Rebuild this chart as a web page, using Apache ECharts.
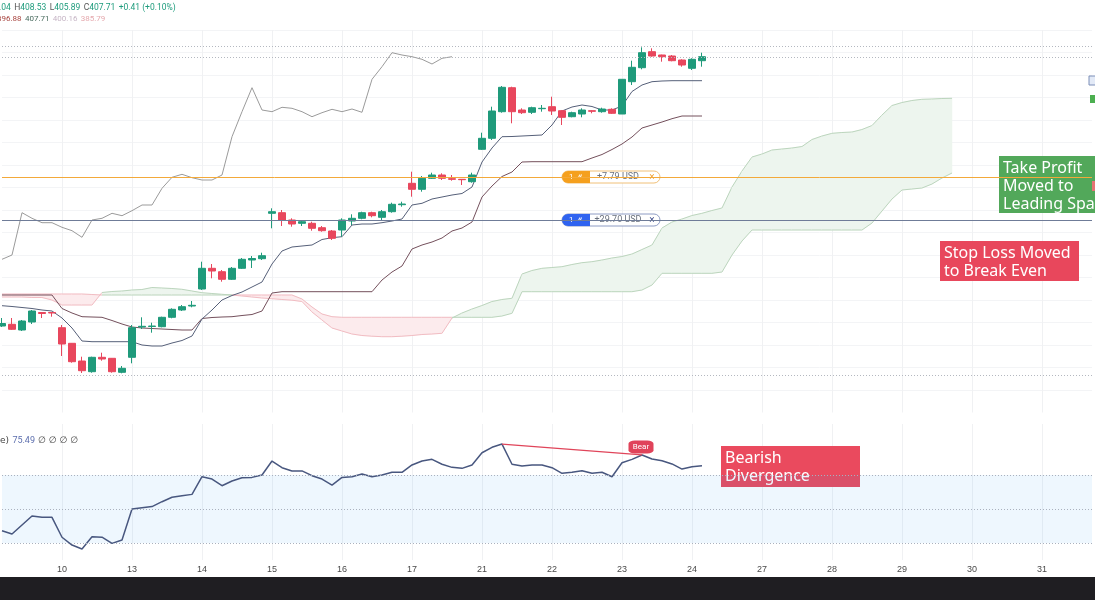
<!DOCTYPE html>
<html>
<head>
<meta charset="utf-8">
<script src="https://cdn.jsdelivr.net/npm/echarts@6/dist/echarts.min.js"></script>
<style>
  html, body { margin: 0; padding: 0; background: #fff; }
  #chart { width: 1095px; height: 600px; }
</style>
</head>
<body>
<div id="chart"></div>
<script>
// time slots: one per hourly candle, day labels on the first candle of each day
const slotCount = 110;
const dayTickIndex = [6, 13, 20, 27, 34, 41, 48, 55, 62, 69, 76, 83, 90, 97, 104];
const dayTickLabel = ['10', '13', '14', '15', '16', '17', '21', '22', '23', '24', '27', '28', '29', '30', '31'];

// candles (index 0..70)
const opens = [
  354.8, 355.14, 354.0, 355.6, 357.5, 357.5, 354.46, 351.34, 347.8, 345.66,
  348.54, 348.34, 345.54, 348.54, 354.6, 354.7, 354.66, 356.54, 358.0, 358.8,
  362.2, 366.34, 365.66, 364.14, 366.34, 368.0, 368.26, 377.34, 377.46, 376.0,
  375.34, 375.34, 374.46, 373.8, 374.0, 375.8, 376.34, 377.46, 376.54, 377.66,
  379.06, 383.34, 382.14, 384.34, 385.0, 384.26, 384.14, 383.66, 390.14, 392.34,
  397.66, 402.46, 398.0, 397.54, 398.26, 398.66, 397.86, 396.66, 397.2, 397.86,
  397.66, 398.14, 397.2, 403.66, 406.46, 409.66, 409.0, 408.8, 408.0, 406.34,
  407.86
];
const closes = [
  355.3, 354.14, 355.8, 357.8, 357.3, 357.4, 351.2, 347.66, 345.86, 348.54,
  348.2, 345.66, 346.34, 354.46, 354.74, 354.8, 356.54, 358.14, 358.66, 358.94,
  366.34, 365.8, 364.14, 366.34, 368.14, 368.3, 368.86, 377.66, 376.0, 375.2,
  375.66, 374.34, 373.86, 372.34, 376.0, 376.34, 377.46, 376.86, 377.66, 379.14,
  379.2, 382.14, 384.34, 385.0, 384.34, 384.14, 384.06, 385.0, 392.34, 397.8,
  402.54, 397.66, 397.46, 398.46, 398.34, 397.8, 396.54, 397.46, 398.0, 397.74,
  398.2, 397.34, 404.14, 406.54, 409.46, 408.8, 408.66, 407.86, 407.0, 408.14,
  408.66
];
const lows = [
  354.6, 354.0, 353.8, 355.2, 356.4, 356.66, 348.8, 347.46, 345.4, 345.46,
  347.86, 345.46, 345.34, 347.34, 354.2, 353.46, 354.54, 356.34, 357.8, 358.54,
  362.0, 364.34, 363.66, 364.0, 366.2, 366.4, 368.0, 374.34, 374.8, 374.66,
  374.8, 373.86, 373.66, 372.0, 372.66, 375.0, 376.14, 376.54, 376.0, 377.46,
  378.66, 380.66, 381.66, 384.2, 384.0, 383.86, 383.0, 383.46, 390.0, 392.0,
  397.46, 395.34, 397.2, 397.2, 397.66, 397.0, 395.0, 396.54, 396.54, 397.34,
  397.46, 397.2, 397.2, 403.0, 406.14, 408.66, 407.66, 407.74, 406.66, 406.0,
  406.66
];
const highs = [
  356.4, 356.4, 356.0, 358.0, 357.6, 357.6, 355.0, 351.4, 348.66, 348.66,
  349.46, 348.4, 346.8, 355.0, 356.54, 355.46, 356.66, 358.34, 359.0, 359.8,
  367.66, 367.2, 366.0, 366.6, 368.4, 368.8, 369.46, 378.34, 378.0, 376.34,
  375.8, 375.66, 374.8, 374.0, 376.34, 377.14, 377.66, 377.66, 378.0, 379.46,
  379.66, 385.66, 384.8, 385.46, 385.34, 385.0, 384.2, 385.46, 393.46, 398.66,
  402.8, 402.66, 398.34, 398.66, 399.0, 400.66, 398.0, 397.66, 398.34, 397.94,
  398.46, 398.34, 404.14, 407.86, 410.54, 410.34, 409.06, 409.0, 408.14, 408.34,
  409.46
];

// ichimoku lines
const conversionLine = [
  358.86, 358.7, 358.5, 358.3, 358.0, 357.8, 356.4, 354.4, 351.8, 351.66,
  351.66, 351.66, 351.66, 351.66, 351.0, 350.8, 350.8, 351.4, 351.9, 352.8,
  356.2, 358.0, 360.0, 360.9, 361.6, 362.6, 363.6, 367.2, 369.8, 370.6,
  370.8, 371.0, 372.1, 372.46, 372.66, 375.0, 375.2, 375.2, 375.46, 375.8,
  376.2, 379.0, 379.34, 380.2, 380.6, 381.0, 381.3, 382.6, 387.6, 390.4,
  392.66, 392.7, 392.8, 392.9, 393.0, 395.0, 397.8, 398.6, 399.0, 398.7,
  398.0, 398.0, 398.8, 401.7, 403.0, 403.66, 403.8, 403.86, 403.86, 403.86,
  403.86
];
const baseLine = [
  361.0, 361.0, 361.0, 361.0, 361.0, 361.0, 358.3, 357.4, 356.66, 356.6,
  356.54, 355.9, 355.2, 354.6, 354.4, 354.3, 354.2, 354.1, 354.0, 354.0,
  356.3, 356.5, 356.6, 356.66, 356.9, 357.1, 357.8, 361.4, 361.66, 361.66,
  361.66, 361.66, 361.66, 361.66, 361.66, 361.66, 361.66, 361.66, 364.0, 365.6,
  366.8, 370.2, 371.0, 371.6, 372.4, 373.8, 374.4, 375.6, 380.6, 382.8,
  384.7, 385.6, 387.6, 387.66, 387.66, 387.66, 387.66, 387.66, 387.66, 388.4,
  389.1, 390.1, 391.2, 392.6, 394.4, 395.0, 395.6, 396.26, 396.8, 396.8,
  396.8
];
const laggingSpan = [
  368.14, 369.0, 377.46, 376.34, 375.46, 375.46, 374.54, 373.86, 372.54, 376.0,
  376.34, 377.34, 376.86, 377.86, 379.0, 379.0, 382.34, 384.54, 385.14, 384.46,
  384.0, 384.0, 385.0, 392.66, 397.66, 402.46, 398.0, 397.66, 398.54, 398.34,
  397.66, 396.66, 397.46, 398.14, 397.66, 398.2, 397.54, 404.14, 406.66, 409.46,
  409.0, 408.66, 408.14, 407.2, 408.34, 408.66
];
const leadingSpanA = [
  360.6, 360.6, 360.6, 360.5, 360.5, 360.0, 359.0, 359.0, 359.0, 359.0,
  361.5, 361.7, 361.8, 362.0, 362.1, 362.5, 362.4, 362.3, 362.14, 361.8,
  361.46, 361.3, 361.14, 361.0, 360.8, 360.6, 360.4, 360.26, 360.1, 359.96,
  359.7, 357.6, 356.0, 354.4, 353.8, 353.2, 352.9, 352.76, 352.66, 352.66,
  352.76, 352.9, 353.1, 353.2, 353.34, 356.4, 357.4, 358.2, 358.9, 359.7,
  360.1, 360.34, 365.2, 365.9, 366.34, 366.5, 366.66, 367.1, 367.46, 367.66,
  368.0, 368.4, 368.7, 369.2, 370.1, 371.0, 374.4, 375.6, 376.2, 376.9,
  377.34, 377.9, 378.4, 382.6, 385.8, 388.6, 389.2, 390.0, 390.2, 390.4,
  390.7, 392.1, 392.8, 393.34, 393.5, 393.6, 394.1, 394.9, 397.0, 398.9,
  399.5, 399.9, 400.14, 400.2, 400.3, 400.34
];
const leadingSpanB = [
  361.2, 361.2, 361.2, 361.2, 361.2, 361.2, 361.2, 361.2, 361.2, 361.1,
  361.0, 361.0, 361.0, 361.0, 361.0, 361.0, 361.0, 361.0, 361.0, 361.0,
  361.0, 361.0, 361.0, 361.0, 361.0, 361.0, 361.0, 361.0, 361.0, 361.0,
  360.2, 358.6, 357.2, 356.66, 356.54, 356.54, 356.54, 356.54, 356.54, 356.54,
  356.54, 356.54, 356.54, 356.54, 356.54, 356.54, 356.54, 356.54, 356.54, 356.54,
  356.8, 357.34, 361.66, 361.66, 361.66, 361.66, 361.66, 361.66, 361.66, 361.66,
  361.66, 361.66, 361.66, 361.66, 362.0, 363.0, 365.34, 365.34, 365.34, 365.34,
  365.34, 365.34, 365.6, 369.0, 371.8, 374.0, 374.0, 374.0, 374.0, 374.0,
  374.0, 374.0, 374.0, 374.0, 374.0, 374.0, 374.0, 375.4, 377.8, 380.2,
  382.0, 382.2, 382.4, 383.2, 384.4, 385.4
];

// horizontal levels on the price pane
const takeProfitLevel = 384.5;
const stopLevel = 376.0;
const dottedLevels = [410.7, 408.6, 345.0];

// RSI
const rsi = [
  37.2, 35.3, 40.6, 45.9, 45.1, 45.1, 33.4, 28.8, 26.5, 33.7,
  33.4, 29.8, 31.8, 50.0, 50.8, 51.4, 54.3, 56.9, 57.8, 58.6,
  69.0, 67.6, 63.7, 66.5, 68.4, 68.6, 70.0, 78.2, 74.3, 72.4,
  72.4, 69.6, 67.6, 64.1, 68.6, 69.0, 70.6, 69.0, 70.0, 71.6,
  71.6, 75.9, 78.2, 79.2, 76.3, 74.5, 73.9, 75.9, 83.1, 86.3,
  88.2, 76.3, 75.3, 75.9, 75.9, 74.3, 71.0, 71.6, 72.5, 71.0,
  71.6, 69.0, 77.2, 79.2, 81.8, 79.4, 78.4, 76.5, 73.5, 74.9,
  75.49
];
const rsiLevels = [70, 50, 30];
const divergenceFrom = [50, 88.2];
const divergenceTo = [64, 81.8];

const slots = Array.from({ length: slotCount }, (_, i) => String(i));
const labelAt = {};
dayTickIndex.forEach((idx, k) => { labelAt[idx] = dayTickLabel[k]; });
const isDay = (idx) => labelAt[idx] !== undefined;

const candleData = opens.map((o, i) => [o, closes[i], lows[i], highs[i]]);
const cloudData = leadingSpanA.slice(0, -1).map((a, i) =>
  [i, a, leadingSpanB[i], leadingSpanA[i + 1], leadingSpanB[i + 1]]);

const UP = '#1f9a7b';
const DOWN = '#e8475d';

const chart = echarts.init(document.getElementById('chart'));

const option = {
  animation: false,
  backgroundColor: '#ffffff',
  grid: [
    { left: 2, right: 3, top: 30, height: 382.5 },
    { left: 2, right: 3, top: 424, height: 136 }
  ],
  xAxis: [
    {
      type: 'category', gridIndex: 0, data: slots, boundaryGap: false,
      axisLine: { show: false }, axisTick: { show: false }, axisLabel: { show: false },
      splitLine: { show: true, interval: (idx) => isDay(idx), lineStyle: { color: '#f0f1f3', width: 1 } }
    },
    {
      type: 'category', gridIndex: 1, data: slots, boundaryGap: false,
      axisLine: { show: false }, axisTick: { show: false },
      axisLabel: {
        interval: (idx) => isDay(idx),
        formatter: (v, idx) => labelAt[idx] || '',
        color: '#4a4a4a', fontSize: 9, fontFamily: 'Liberation Sans', margin: 5
      },
      splitLine: { show: true, interval: (idx) => isDay(idx), lineStyle: { color: '#f0f1f3', width: 1 } }
    }
  ],
  yAxis: [
    {
      type: 'value', gridIndex: 0, min: 337.5, max: 414, interval: 4.5,
      axisLine: { show: false }, axisTick: { show: false }, axisLabel: { show: false },
      splitLine: { show: true, showMinLine: false, lineStyle: { color: '#f3f4f6', width: 1 } }
    },
    {
      type: 'value', gridIndex: 1, min: 20, max: 100,
      axisLine: { show: false }, axisTick: { show: false }, axisLabel: { show: false },
      splitLine: { show: false }
    }
  ],
  series: [
    {
      name: 'Cloud', type: 'custom', xAxisIndex: 0, yAxisIndex: 0, z: 1, silent: true,
      data: cloudData,
      encode: { x: 0, y: [1, 2, 3, 4] },
      renderItem: (params, api) => {
        const i = api.value(0);
        const a0 = api.value(1), b0 = api.value(2), a1 = api.value(3), b1 = api.value(4);
        const pa0 = api.coord([i, a0]), pb0 = api.coord([i, b0]);
        const pa1 = api.coord([i + 1, a1]), pb1 = api.coord([i + 1, b1]);
        const bull = a0 + a1 >= b0 + b1;
        const fill = bull ? '#edf5ee' : '#fcebed';
        const edge = bull ? '#bcd5bd' : '#f1bcc2';
        return {
          type: 'group',
          children: [
            { type: 'polygon', shape: { points: [pa0, pa1, pb1, pb0] }, style: { fill: fill, stroke: fill, lineWidth: 0.5 } },
            { type: 'line', shape: { x1: pa0[0], y1: pa0[1], x2: pa1[0], y2: pa1[1] }, style: { stroke: edge, lineWidth: 1 } },
            { type: 'line', shape: { x1: pb0[0], y1: pb0[1], x2: pb1[0], y2: pb1[1] }, style: { stroke: edge, lineWidth: 1 } }
          ]
        };
      }
    },
    {
      name: 'Lagging', type: 'line', xAxisIndex: 0, yAxisIndex: 0, z: 2,
      data: laggingSpan, showSymbol: false, silent: true,
      lineStyle: { color: '#9b9b9b', width: 1 }
    },
    {
      name: 'Base', type: 'line', xAxisIndex: 0, yAxisIndex: 0, z: 2,
      data: baseLine, showSymbol: false, silent: true,
      lineStyle: { color: '#74505c', width: 1 }
    },
    {
      name: 'Conversion', type: 'line', xAxisIndex: 0, yAxisIndex: 0, z: 2,
      data: conversionLine, showSymbol: false, silent: true,
      lineStyle: { color: '#566079', width: 1 }
    },
    {
      name: 'Price', type: 'candlestick', xAxisIndex: 0, yAxisIndex: 0, z: 3,
      data: candleData, barWidth: 7, silent: true,
      itemStyle: { color: UP, color0: DOWN, borderColor: UP, borderColor0: DOWN, borderWidth: 1 },
      markLine: {
        silent: true, symbol: ['none', 'none'], label: { show: false },
        data: [
          { yAxis: takeProfitLevel, lineStyle: { color: '#f3a93a', width: 1, type: 'solid' } },
          { yAxis: stopLevel, lineStyle: { color: '#6f7c98', width: 1.2, type: 'solid' } },
          ...dottedLevels.map(v => ({ yAxis: v, lineStyle: { color: '#b4b8c0', width: 1, type: [1, 2] } }))
        ]
      }
    },
    {
      name: 'RSI', type: 'line', xAxisIndex: 1, yAxisIndex: 1, z: 3,
      data: rsi, showSymbol: false, silent: true,
      lineStyle: { color: '#48577f', width: 1.5 },
      markArea: {
        silent: true,
        itemStyle: { color: 'rgba(33,150,243,0.08)' },
        data: [[{ yAxis: rsiLevels[0] }, { yAxis: rsiLevels[2] }]]
      },
      markLine: {
        silent: true, symbol: ['none', 'none'], label: { show: false },
        data: [
          ...rsiLevels.map(v => ({ yAxis: v, lineStyle: { color: '#aab1be', width: 1, type: [1, 2] } })),
          [
            { coord: divergenceFrom, lineStyle: { color: '#e0455a', width: 1.3, type: 'solid' } },
            { coord: divergenceTo }
          ]
        ]
      },
      markPoint: {
        silent: true,
        data: [{
          coord: divergenceTo, symbol: 'roundRect', symbolSize: [25, 13], symbolOffset: [-1, -8],
          itemStyle: { color: '#e0435a' },
          label: { show: true, formatter: 'Bear', color: '#fff', fontSize: 8, fontFamily: 'Roboto' }
        }]
      }
    }
  ]
};

chart.setOption(option);

// annotations positioned from the price scale
const yOf = (price) => chart.convertToPixel({ yAxisIndex: 0 }, price);

function pill(cy, main, border, text, xColor) {
  const h = 12;
  return {
    type: 'group', x: 562, y: Math.round(cy - h / 2), z: 10,
    children: [
      { type: 'rect', shape: { x: 0, y: 0, width: 98, height: h, r: 6 }, style: { fill: '#fff', stroke: border, lineWidth: 1 } },
      { type: 'rect', shape: { x: 0, y: 0, width: 28, height: h, r: [6, 0, 0, 6] }, style: { fill: main } },
      { type: 'text', x: 7, y: h / 2, style: { text: '1', fill: '#fff', font: '8px Roboto', verticalAlign: 'middle' } },
      { type: 'text', x: 16, y: h / 2, style: { text: '\u00ab', fill: '#fff', font: 'bold 9px Roboto', verticalAlign: 'middle' } },
      { type: 'text', x: 56, y: h / 2, style: { text: text, fill: '#69707d', font: '9px Roboto', align: 'center', verticalAlign: 'middle' } },
      { type: 'text', x: 90, y: h / 2, style: { text: '\u00d7', fill: xColor, font: '10px Roboto', align: 'center', verticalAlign: 'middle' } }
    ]
  };
}

function note(x, y, w, h, fill, lines) {
  return {
    type: 'group', x: x, y: y, z: 10,
    children: [
      { type: 'rect', shape: { x: 0, y: 0, width: w, height: h }, style: { fill: fill } },
      { type: 'text', x: 4, y: 3, style: { text: lines.join('\n'), fill: '#ffffff', font: '16px "Noto Sans"', lineHeight: 18 } }
    ]
  };
}

chart.setOption({
  graphic: [
    {
      type: 'text', x: -1, y: 2, z: 10,
      style: {
        text: '{g|.04} {k|H}{g|408.53} {k|L}{g|405.89} {k|C}{g|407.71} {g|+0.41 (+0.10%)}',
        rich: {
          g: { fill: '#1f9c7d', fontSize: 8.5, fontFamily: 'Roboto' },
          k: { fill: '#555555', fontSize: 8.5, fontFamily: 'Roboto' }
        }
      }
    },
    {
      type: 'text', x: -3, y: 13, z: 10,
      style: {
        text: '{a|396.88} {b|407.71} {c|400.16} {d|385.79}',
        rich: {
          a: { fill: '#a8443f', fontSize: 8, fontFamily: 'Roboto' },
          b: { fill: '#4b6d60', fontSize: 8, fontFamily: 'Roboto' },
          c: { fill: '#c7b6c6', fontSize: 8, fontFamily: 'Roboto' },
          d: { fill: '#e5a9ae', fontSize: 8, fontFamily: 'Roboto' }
        }
      }
    },
    {
      type: 'text', x: 0, y: 435, z: 10,
      style: {
        text: '{k|e)} {v|75.49} {k|\u2205 \u2205 \u2205 \u2205}',
        rich: {
          k: { fill: '#444444', fontSize: 9, fontFamily: 'DejaVu Sans' },
          v: { fill: '#5d6fae', fontSize: 9, fontFamily: 'Roboto' }
        }
      }
    },
    pill(yOf(takeProfitLevel), '#f5a01e', '#f0c078', '+7.79 USD', '#f0a030'),
    pill(yOf(stopLevel), '#2f63f0', '#8e9cc4', '+29.70 USD', '#3b4a8a'),
    note(999, 156, 120, 57, '#52a85a', ['Take Profit', 'Moved to', 'Leading Span B']),
    note(940, 241, 139, 40, '#e8475c', ['Stop Loss Moved', 'to Break Even']),
    note(721, 446, 139, 41, '#ea4a5e', ['Bearish', 'Divergence']),
    { type: 'rect', z: 10, shape: { x: 1089, y: 76, width: 7, height: 9 }, style: { fill: '#e3eaf7', stroke: '#7d8fb8', lineWidth: 1 } },
    { type: 'rect', z: 10, shape: { x: 1090, y: 95, width: 6, height: 8 }, style: { fill: '#4caf50' } },
    { type: 'rect', z: 10, shape: { x: 1092, y: 181, width: 4, height: 10 }, style: { fill: '#e57373' } },
    { type: 'rect', z: 10, shape: { x: 0, y: 577, width: 1095, height: 23 }, style: { fill: '#1f1e22' } }
  ]
});
</script>
</body>
</html>
